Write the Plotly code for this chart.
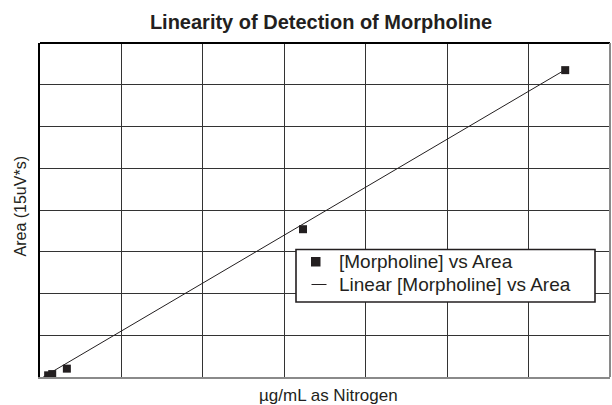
import plotly.graph_objects as go

# Data (in grid units: 7 columns x 8 rows, axes unlabeled)
conc_x = [0.10, 0.15, 0.33, 3.23, 6.45]
area_y = [0.04, 0.07, 0.20, 3.54, 7.35]
trend_x = [0.04, 6.45]
trend_y = [0.00, 7.36]

title_text = "Linearity of Detection of Morpholine"
x_title = "µg/mL as Nitrogen"
y_title = "Area (15uV*s)"
series_name = "[Morpholine] vs Area"
trend_name = "Linear [Morpholine] vs Area"

ink = "#231f20"
FONT = "Liberation Sans, Arial, sans-serif"

W, H = 612, 405
L, R, T, B = 40, 2, 43, 28
pw, ph = W - L - R, H - T - B


def px(xp):
    return (xp - L) / pw


def py(yp):
    return (H - B - yp) / ph


fig = go.Figure()
fig.add_trace(go.Scatter(
    x=conc_x, y=area_y, mode="markers", name=series_name,
    marker=dict(symbol="square", size=8, color=ink, line=dict(width=0)),
))
fig.add_trace(go.Scatter(
    x=trend_x, y=trend_y, mode="lines", name=trend_name,
    line=dict(color=ink, width=1),
))

shapes = [
    # top and right frame edges
    dict(type="line", xref="paper", yref="paper", x0=0, x1=1, y0=1, y1=1,
         line=dict(color="black", width=2)),
    dict(type="line", xref="paper", yref="paper", x0=1, x1=1, y0=0, y1=1,
         line=dict(color="#8a8a8a", width=2)),
    # legend box
    dict(type="rect", xref="paper", yref="paper",
         x0=px(296), x1=px(595), y0=py(302), y1=py(249.5),
         fillcolor="white", line=dict(color=ink, width=1.6), layer="above"),
    # legend marker symbol
    dict(type="rect", xref="paper", yref="paper",
         x0=px(311), x1=px(320.5), y0=py(266.5), y1=py(257),
         fillcolor=ink, line=dict(width=0), layer="above"),
    # legend line symbol
    dict(type="line", xref="paper", yref="paper",
         x0=px(311.5), x1=px(326.5), y0=py(284.5), y1=py(284.5),
         line=dict(color=ink, width=1), layer="above"),
]

annotations = [
    dict(text=series_name, xref="paper", yref="paper", x=px(337), y=py(261.5),
         xanchor="left", yanchor="middle", showarrow=False,
         font=dict(family=FONT, size=19, color=ink)),
    dict(text=trend_name, xref="paper", yref="paper", x=px(337), y=py(284.5),
         xanchor="left", yanchor="middle", showarrow=False,
         font=dict(family=FONT, size=19, color=ink)),
    dict(text=x_title, xref="paper", yref="paper", x=px(328), y=0, yshift=-18,
         xanchor="center", yanchor="middle", showarrow=False,
         font=dict(family=FONT, size=17, color=ink)),
    dict(text=y_title, xref="paper", yref="paper", x=0, xshift=-20, y=py(206.5),
         xanchor="center", yanchor="middle", textangle=-90, showarrow=False,
         font=dict(family=FONT, size=16, color=ink)),
]

fig.update_layout(
    width=W, height=H,
    margin=dict(l=L, r=R, t=T, b=B, autoexpand=False),
    paper_bgcolor="white", plot_bgcolor="white",
    title=dict(text="<b>" + title_text + "</b>", x=px(321), xref="paper", xanchor="center",
               y=1 - 22 / H, yref="container", yanchor="middle",
               font=dict(family=FONT, size=20, color=ink)),
    font=dict(family=FONT, color=ink),
    xaxis=dict(range=[0, 7], dtick=1, showticklabels=False, ticks="", automargin=False,
               showgrid=True, gridcolor="#333333", gridwidth=1, zeroline=False,
               showline=True, linecolor="#8a8a8a", linewidth=2, mirror=False),
    yaxis=dict(range=[0, 8], dtick=1, showticklabels=False, ticks="", automargin=False,
               showgrid=True, gridcolor="#333333", gridwidth=1, zeroline=False,
               showline=True, linecolor="black", linewidth=2, mirror=False),
    shapes=shapes,
    annotations=annotations,
    showlegend=False,
)

fig.write_html(
    "out.html",
    config={"displayModeBar": False},
    post_script="document.body.style.margin='0';document.body.style.overflow='hidden';",
)
